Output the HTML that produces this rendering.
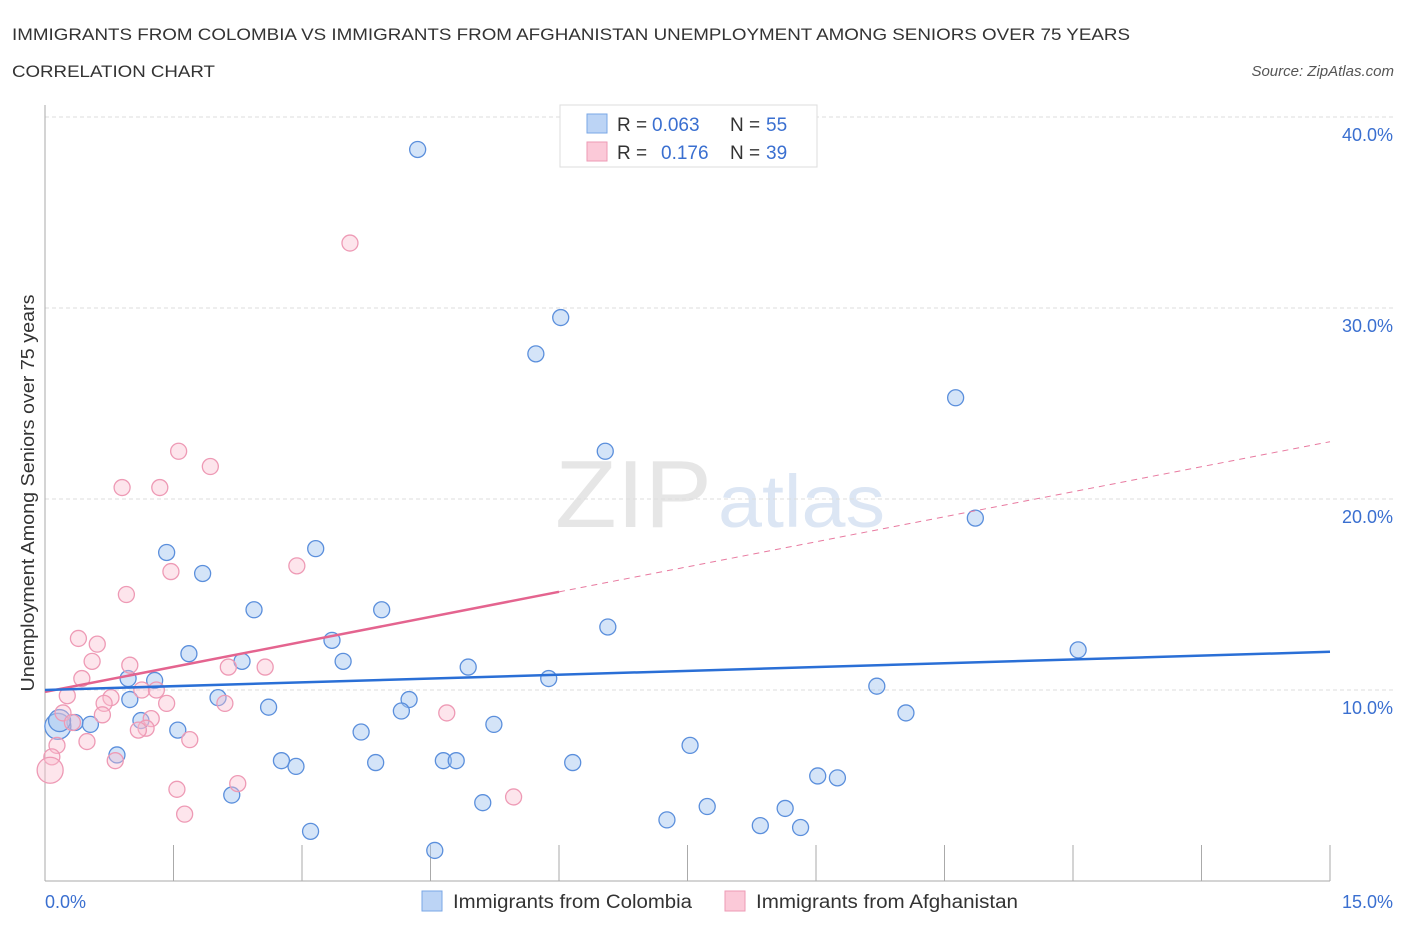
<!DOCTYPE html>
<html><head><meta charset="utf-8"><style>
body{margin:0;background:#fff;font-family:"Liberation Sans",sans-serif}
svg text{font-family:"Liberation Sans",sans-serif}
</style></head><body>
<svg id="chart" width="1406" height="930" xmlns="http://www.w3.org/2000/svg">
<text x="12" y="40" font-size="17" fill="#333" textLength="1118" lengthAdjust="spacingAndGlyphs">IMMIGRANTS FROM COLOMBIA VS IMMIGRANTS FROM AFGHANISTAN UNEMPLOYMENT AMONG SENIORS OVER 75 YEARS</text>
<text x="12" y="77" font-size="17" fill="#333" textLength="203" lengthAdjust="spacingAndGlyphs">CORRELATION CHART</text>
<text x="1394" y="76" font-size="15" fill="#555" font-style="italic" text-anchor="end">Source: ZipAtlas.com</text>
<text x="555" y="527" font-size="96" fill="#e6e6e6" font-family="Liberation Serif" textLength="157" lengthAdjust="spacingAndGlyphs">ZIP</text>
<text x="718" y="527" font-size="74" fill="#dce6f4" textLength="167" lengthAdjust="spacingAndGlyphs">atlas</text>
<text transform="translate(34,493) rotate(-90)" font-size="18" fill="#333" text-anchor="middle" textLength="397" lengthAdjust="spacingAndGlyphs">Unemployment Among Seniors over 75 years</text>
<g id="grid"></g><g id="axes"></g><g id="marks"></g>
<g>
<rect x="560" y="105" width="257" height="62" fill="#fff" stroke="#ddd"/>
<rect x="587" y="114" width="20" height="19" fill="#bcd4f5" stroke="#7aa7e6"/>
<rect x="587" y="142" width="20" height="19" fill="#fbc9d8" stroke="#ee9ab5"/>
<text x="617" y="131" font-size="19" fill="#333">R =</text>
<text x="652" y="131" font-size="19" fill="#3a6fd0">0.063</text>
<text x="730" y="131" font-size="19" fill="#333">N =</text>
<text x="766" y="131" font-size="19" fill="#3a6fd0">55</text>
<text x="617" y="159" font-size="19" fill="#333">R =</text>
<text x="661" y="159" font-size="19" fill="#3a6fd0">0.176</text>
<text x="730" y="159" font-size="19" fill="#333">N =</text>
<text x="766" y="159" font-size="19" fill="#3a6fd0">39</text>
</g>
<g>
<rect x="422" y="891" width="20" height="20" fill="#bcd4f5" stroke="#7aa7e6"/>
<text x="453" y="908" font-size="19" fill="#333" textLength="239" lengthAdjust="spacingAndGlyphs">Immigrants from Colombia</text>
<rect x="725" y="891" width="20" height="20" fill="#fbc9d8" stroke="#ee9ab5"/>
<text x="756" y="908" font-size="19" fill="#333" textLength="262" lengthAdjust="spacingAndGlyphs">Immigrants from Afghanistan</text>
</g>
</svg>
<script>
const yTicks=[10,20,30,40];
const yTickLabels=["10.0%","20.0%","30.0%","40.0%"];
const xTicks=[0,1.5,3,4.5,6,7.5,9,10.5,12,13.5,15];
const colombiaX=[4.35,6.02,5.73,6.54,10.63,10.86,1.42,3.16,1.84,2.44,3.93,6.57,3.35,1.68,12.06,2.30,3.48,4.94,0.97,1.28,5.88,9.71,2.02,4.25,0.99,2.61,4.16,10.05,1.12,0.35,0.53,0.15,1.55,5.24,3.69,7.53,0.84,2.76,2.93,3.86,4.65,4.80,6.16,9.02,9.25,2.18,5.11,7.73,8.64,7.26,8.35,8.82,3.10,4.55,0.17];
const colombiaY=[38.3,29.5,27.6,22.5,25.3,19.0,17.2,17.4,16.1,14.2,14.2,13.3,12.6,11.9,12.1,11.5,11.5,11.2,10.6,10.5,10.6,10.2,9.6,9.5,9.5,9.1,8.9,8.8,8.4,8.3,8.2,8.1,7.9,8.2,7.8,7.1,6.6,6.3,6.0,6.2,6.3,6.3,6.2,5.5,5.4,4.5,4.1,3.9,3.8,3.2,2.9,2.8,2.6,1.6,8.4];
const colombiaR=[8,8,8,8,8,8,8,8,8,8,8,8,8,8,8,8,8,8,8,8,8,8,8,8,8,8,8,8,8,8,8,13,8,8,8,8,8,8,8,8,8,8,8,8,8,8,8,8,8,8,8,8,8,8,11];
const afghanX=[3.56,1.56,1.93,0.90,1.34,1.47,2.94,0.95,0.39,0.61,0.55,0.99,2.14,2.57,0.43,1.13,1.30,0.26,0.77,0.69,1.42,2.10,0.21,0.67,4.69,1.24,0.32,1.18,1.09,1.69,0.49,0.14,0.08,0.82,2.25,1.54,5.47,1.63,0.06];
const afghanY=[33.4,22.5,21.7,20.6,20.6,16.2,16.5,15.0,12.7,12.4,11.5,11.3,11.2,11.2,10.6,10.0,10.0,9.7,9.6,9.3,9.3,9.3,8.8,8.7,8.8,8.5,8.3,8.0,7.9,7.4,7.3,7.1,6.5,6.3,5.1,4.8,4.4,3.5,5.8];
const afghanR=[8,8,8,8,8,8,8,8,8,8,8,8,8,8,8,8,8,8,8,8,8,8,8,8,8,8,8,8,8,8,8,8,8,8,8,8,8,8,13];
const colombiaTrend=[10.0,12.0];
const afghanTrend=[9.9,23.0];
const afghanSolidEnd=6.0;
const NS="http://www.w3.org/2000/svg";
const X0=45,X1=1330,Y0=881,PY=19.1;
const sx=v=>X0+(v/15)*(X1-X0);
const sy=v=>Y0-v*PY;
function mk(tag,attrs,parent){const e=document.createElementNS(NS,tag);for(const k in attrs)e.setAttribute(k,attrs[k]);document.getElementById(parent).appendChild(e);return e;}
yTicks.forEach((t,i)=>{
 const l=mk('line',{x1:X0,x2:1393,y1:sy(t),y2:sy(t),stroke:'#ddd','stroke-dasharray':'4,3'},'grid');
 
 
 const tx=mk('text',{x:1393,y:sy(t)+24,'font-size':18,fill:'#3a6fd0','text-anchor':'end'},'grid');
 tx.textContent=yTickLabels[i];
 
 
});
const ax=mk('line',{x1:X0,x2:X0,y1:105,y2:Y0,stroke:'#aaa'},'axes');


const xa=mk('line',{x1:X0,x2:X1,y1:Y0,y2:Y0,stroke:'#aaa'},'axes');


xTicks.forEach(t=>{
 const l=mk('line',{x1:sx(t),x2:sx(t),y1:Y0,y2:Y0-36,stroke:'#aaa'},'axes');
 
 
});
const xl0=mk('text',{x:45,y:908,'font-size':18,fill:'#3a6fd0'},'axes');xl0.textContent='0.0%';


const xl1=mk('text',{x:1393,y:908,'font-size':18,fill:'#3a6fd0','text-anchor':'end'},'axes');xl1.textContent='15.0%';


colombiaX.forEach((v,i)=>{
 const c=mk('circle',{cx:sx(v),cy:sy(colombiaY[i]),r:colombiaR[i],fill:'rgba(160,195,240,0.45)',stroke:'#5b8fdc','stroke-width':1.3},'marks');
 
 
});
afghanX.forEach((v,i)=>{
 const c=mk('circle',{cx:sx(v),cy:sy(afghanY[i]),r:afghanR[i],fill:'rgba(250,190,208,0.4)',stroke:'#ee9ab5','stroke-width':1.3},'marks');
 
 
});
const at=v=>afghanTrend[0]+(afghanTrend[1]-afghanTrend[0])*v/15;
const pd=mk('line',{x1:sx(afghanSolidEnd),y1:sy(at(afghanSolidEnd)),x2:sx(15),y2:sy(afghanTrend[1]),stroke:'#e87aa0','stroke-width':1,'stroke-dasharray':'6,5'},'marks');


const ps=mk('line',{x1:sx(0),y1:sy(afghanTrend[0]),x2:sx(afghanSolidEnd),y2:sy(at(afghanSolidEnd)),stroke:'#e4648f','stroke-width':2.5},'marks');


const bt=mk('line',{x1:sx(0),y1:sy(colombiaTrend[0]),x2:sx(15),y2:sy(colombiaTrend[1]),stroke:'#2a6fd6','stroke-width':2.5},'marks');


</script>
</body></html>
